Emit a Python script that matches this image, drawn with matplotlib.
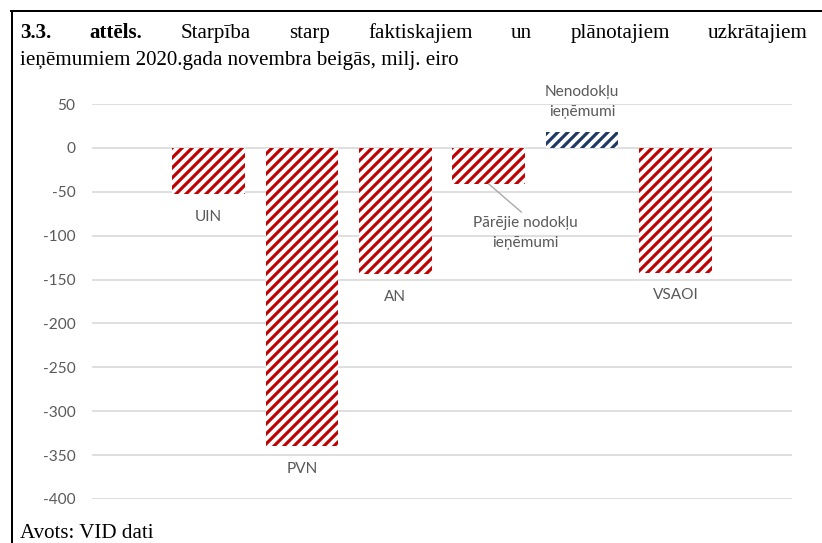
import matplotlib
matplotlib.use('Agg')
import matplotlib.pyplot as plt
from matplotlib.lines import Line2D

# --- data ---
categories = ['UIN', 'PVN', 'AN', 'Pārējie nodokļu\nieņēmumi', 'Nenodokļu\nieņēmumi', 'VSAOI']
values = [-53, -340, -144, -41, 18, -142]
bar_colors = ['#c00000', '#c00000', '#c00000', '#c00000', '#1f3864', '#c00000']
yticks = [50, 0, -50, -100, -150, -200, -250, -300, -350, -400]

title_line1 = ['3.3.', 'attēls.', 'Starpība', 'starp', 'faktiskajiem', 'un', 'plānotajiem', 'uzkrātajiem']
title_bold = 2  # first two words are bold
title_line2 = 'ieņēmumiem 2020.gada novembra beigās, milj. eiro'
source = 'Avots: VID dati'

W, H = 822, 543
DPI = 120
plt.rcParams['hatch.linewidth'] = 1.9
sans = ['Lato', 'DejaVu Sans']
serif = 'Liberation Serif'
grey = '#595959'
lab_fs = 9.2

fig = plt.figure(figsize=(W / DPI, H / DPI), dpi=DPI)
ax = fig.add_axes([92 / W, 1 - 499 / H, 700 / W, 395 / H])

x = list(range(len(values)))
for xi, v, c in zip(x, values, bar_colors):
    ax.bar(xi, v, width=0.78, facecolor='white', edgecolor=c, linewidth=0, hatch='////')

ax.set_xlim(-1.25, 6.25)
ax.set_ylim(-400, 50)
ax.set_yticks(yticks)
ax.set_yticklabels([str(t) for t in yticks], family=sans, fontsize=lab_fs, color=grey)
ax.set_xticks([])
ax.tick_params(axis='y', length=0, pad=10)
ax.grid(axis='y', color='#d9d9d9', linewidth=1.0)
ax.set_axisbelow(True)
for s in ax.spines.values():
    s.set_visible(False)

# category labels
for xi, v, lab in zip(x, values, categories):
    if lab.startswith('Pārējie'):
        ax.annotate(lab, xy=(xi, v), xytext=(22, -19), textcoords='offset points',
                    ha='center', va='top', family=sans, fontsize=lab_fs, color=grey,
                    linespacing=1.55,
                    arrowprops=dict(arrowstyle='-', color='#a6a6a6', lw=0.8,
                                    shrinkA=0, shrinkB=0, relpos=(0.5, 1.0)))
    elif v > 0:
        ax.annotate(lab, xy=(xi, v), xytext=(0, 18), textcoords='offset points',
                    ha='center', va='center', family=sans, fontsize=lab_fs, color=grey,
                    linespacing=1.55)
    else:
        ax.annotate(lab, xy=(xi, v), xytext=(0, -13.5), textcoords='offset points',
                    ha='center', va='center', family=sans, fontsize=lab_fs, color=grey)

# --- title, justified first line ---
fs = 12.6
renderer = fig.canvas.get_renderer()
words = []
for i, w in enumerate(title_line1):
    t = fig.text(0, 1 - 38 / H, w, family=serif, fontsize=fs,
                 fontweight='bold' if i < title_bold else 'normal', va='baseline')
    words.append(t)
widths = [t.get_window_extent(renderer).width for t in words]
x0, x1 = 20, 808
gap = (x1 - x0 - sum(widths)) / (len(words) - 1)
pos = x0
for t, wd in zip(words, widths):
    t.set_x(pos / W)
    pos += wd + gap

fig.text(20 / W, 1 - 65 / H, title_line2, family=serif, fontsize=fs, va='baseline')
fig.text(20 / W, 1 - 538 / H, source, family=serif, fontsize=fs, va='baseline')

# frame lines
fig.add_artist(Line2D([11 / W, 1], [1 - 11 / H, 1 - 11 / H], color='black', lw=1.2))
fig.add_artist(Line2D([12 / W, 12 / W], [0, 1 - 11 / H], color='black', lw=1.2))

fig.savefig('out.png', dpi=DPI)
